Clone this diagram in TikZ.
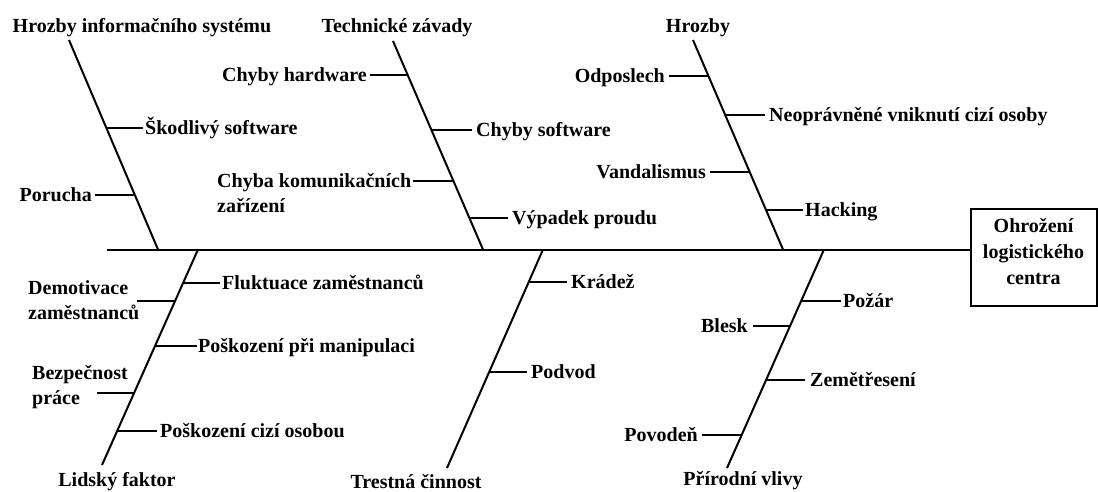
\documentclass[tikz,border=0pt]{standalone}
\usepackage{fontspec}
\setmainfont{Liberation Serif}
\usetikzlibrary{calc}
\newcommand\twig[7]{%
  \coordinate (#1b) at (#2,#3);
  \coordinate (#1e) at (#4,#3);
  \node[lbl, anchor=base #6] (#1) at (#5,#3+6) {#7};
  \draw[bone] (#1b) -- (#1e);
}
\begin{document}
\begin{tikzpicture}[x=1pt,y=-1pt,
  bone/.style={line width=2pt},
  lbl/.style={inner sep=0pt, font=\fontsize{20}{25}\selectfont\bfseries},
  ttl/.style={lbl, anchor=base}]
\useasboundingbox (0,0) rectangle (1098,491);
% effect box and spine
\node[draw, line width=2pt, minimum width=126pt, minimum height=97pt, inner sep=0pt] (box) at (1033.5,257) {};
\node[lbl, align=center, font=\fontsize{20}{26}\selectfont\bfseries] (boxt) at ($(box.center)+(0,-5)$) {Ohrožení\\logistického\\centra};
\coordinate (s0) at (107,249.5);
\draw[bone] (s0) -- (s0 -| box.west);
% top bones
\node[ttl] (tA) at (142,32) {Hrozby informačního systému};
\coordinate (A1) at (69,40); \coordinate (A2) at (158,249.5);
\draw[bone] (A1) -- (A2);
\node[ttl] (tB) at (397,32) {Technické závady};
\coordinate (B1) at (393,41); \coordinate (B2) at (483,249.5);
\draw[bone] (B1) -- (B2);
\node[ttl] (tC) at (698,32) {Hrozby};
\coordinate (C1) at (693,40); \coordinate (C2) at (783,249.5);
\draw[bone] (C1) -- (C2);
% bottom bones
\node[ttl] (tD) at (117,486) {Lidský faktor};
\coordinate (D1) at (198,249.5); \coordinate (D2) at (102,465);
\draw[bone] (D1) -- (D2);
\node[ttl] (tE) at (416,488) {Trestná činnost};
\coordinate (E1) at (543,249.5); \coordinate (E2) at (447,468);
\draw[bone] (E1) -- (E2);
\node[ttl] (tF) at (743,485) {Přírodní vlivy};
\coordinate (F1) at (824,249.5); \coordinate (F2) at (727,468);
\draw[bone] (F1) -- (F2);
% twigs A
\twig{a1}{106.5}{128}{143}{145}{west}{Škodlivý software}
\twig{a2}{135}{195}{95}{92}{east}{Porucha}
% twigs B
\twig{b1}{407.7}{75}{370}{367}{east}{Chyby hardware}
\twig{b2}{431.5}{130}{472}{476}{west}{Chyby software}
\coordinate (b3b) at (453.6,181); \coordinate (b3e) at (413,181);
\draw[bone] (b3b) -- (b3e);
\node[lbl, anchor=base west, align=left] (b3) at (217,212) {Chyba komunikačních\\zařízení};
\twig{b4}{469.6}{218}{508}{512}{west}{Výpadek proudu}
% twigs C
\twig{c1}{708.5}{76}{669}{665}{east}{Odposlech}
\twig{c2}{725.3}{115}{765}{769}{west}{Neoprávněné vniknutí cizí osoby}
\twig{c3}{749.8}{172}{710}{706}{east}{Vandalismus}
\twig{c4}{766.2}{210}{803}{805}{west}{Hacking}
% twigs D
\twig{d1}{183.6}{283}{220}{222}{west}{Fluktuace zaměstnanců}
\coordinate (d2b) at (175.6,301); \coordinate (d2e) at (137,301);
\draw[bone] (d2b) -- (d2e);
\node[lbl, anchor=base west, align=left] (d2) at (28,319) {Demotivace\\zaměstnanců};
\twig{d3}{155.4}{346}{197}{198}{west}{Poškození při manipulaci}
\coordinate (d4b) at (134.3,393); \coordinate (d4e) at (97,393);
\draw[bone] (d4b) -- (d4e);
\node[lbl, anchor=base west, align=left] (d4) at (32,404) {Bezpečnost\\práce};
\twig{d5}{117.3}{431}{157}{160}{west}{Poškození cizí osobou}
% twigs E
\twig{e1}{529.3}{282}{567}{571}{west}{Krádež}
\twig{e2}{489.5}{372}{527}{531}{west}{Podvod}
% twigs F
\twig{f1}{802}{301}{841}{843}{west}{Požár}
\twig{f2}{790.8}{326}{753}{748}{east}{Blesk}
\twig{f3}{766.5}{380}{805}{810}{west}{Zemětřesení}
\twig{f4}{741.8}{435}{702}{698}{east}{Povodeň}
\end{tikzpicture}
\end{document}
